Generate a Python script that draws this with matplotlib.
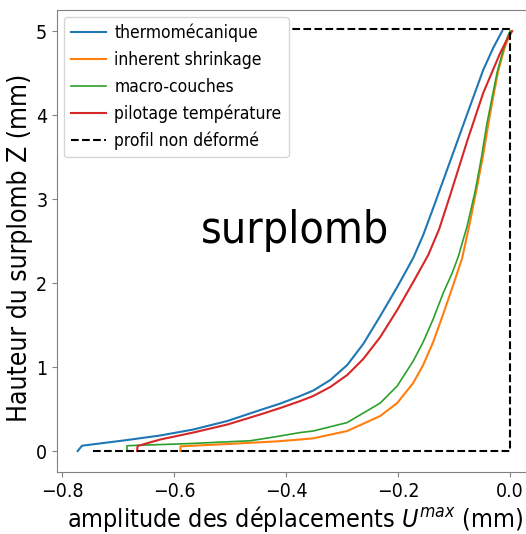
"""
Surplomb : profils de deplacement des differentes methodes
"""
import numpy as np
import matplotlib.pyplot as plt

plt.rcParams['font.family'] = ['DejaVu Sans']
plt.rcParams['font.stretch'] = 'condensed'

# profils deformes (deplacement en mm, hauteur en mm)
thermo_u = [-0.7727, -0.7648, -0.6839, -0.625, -0.566, -0.5054, -0.4464, -0.4107, -0.375,
            -0.3518, -0.3214, -0.2911, -0.2625, -0.2321, -0.2018, -0.1732, -0.1554, -0.1375,
            -0.1071, -0.0768, -0.0482, -0.0304, -0.0143]
thermo_z = [0.0, 0.063, 0.131, 0.185, 0.256, 0.357, 0.488, 0.565, 0.655,
            0.72, 0.845, 1.024, 1.274, 1.607, 1.952, 2.298, 2.571, 2.893,
            3.452, 4.012, 4.536, 4.798, 5.0]

shrink_u = [-0.5893, -0.5888, -0.5054, -0.4161, -0.375, -0.3518, -0.2911, -0.2321, -0.2018,
            -0.1732, -0.1554, -0.1375, -0.1196, -0.1036, -0.0857, -0.0714, -0.0589, -0.0482,
            -0.0393, -0.0304, -0.0214, -0.0107, 0.001]
shrink_z = [0.0, 0.056, 0.083, 0.115, 0.137, 0.151, 0.238, 0.417, 0.571,
            0.81, 1.024, 1.298, 1.631, 1.94, 2.298, 2.738, 3.155, 3.524,
            3.881, 4.214, 4.524, 4.786, 5.0]

macro_u = [-0.6845, -0.6845, -0.5714, -0.4643, -0.4161, -0.375, -0.3518, -0.2911, -0.2321,
           -0.2018, -0.1732, -0.1554, -0.1375, -0.1196, -0.1036, -0.0929, -0.0768, -0.0625,
           -0.0518, -0.042, -0.0321, -0.0232, -0.0125, -0.0036, 0.0]
macro_z = [0.0, 0.063, 0.089, 0.122, 0.173, 0.22, 0.238, 0.339, 0.571,
           0.774, 1.071, 1.298, 1.571, 1.881, 2.119, 2.31, 2.679, 3.095,
           3.476, 3.881, 4.214, 4.512, 4.774, 4.952, 5.0]

pilot_u = [-0.6666, -0.6655, -0.625, -0.566, -0.5054, -0.4464, -0.4107, -0.375, -0.3518,
           -0.3214, -0.2911, -0.2625, -0.2321, -0.2018, -0.1732, -0.1464, -0.1268, -0.1071,
           -0.0768, -0.0482, -0.0179, -0.0071, 0.0036]
pilot_z = [0.0, 0.06, 0.137, 0.22, 0.315, 0.435, 0.512, 0.595, 0.655,
           0.762, 0.905, 1.095, 1.357, 1.679, 2.012, 2.333, 2.643, 3.048,
           3.69, 4.262, 4.738, 4.881, 5.0]

# profil non deforme
ref_u = [-0.745, 0.0, 0.0, -0.39]
ref_z = [0.0, 0.0, 5.03, 5.03]

fig = plt.figure(figsize=(5.26, 5.34), dpi=100)
ax = fig.add_axes([0.1084, 0.1161, 0.903, 0.865])

ax.plot(thermo_u, thermo_z, color='tab:blue', label='thermomécanique')
ax.plot(shrink_u, shrink_z, color='tab:orange', label='inherent shrinkage')
ax.plot(macro_u, macro_z, color='tab:green', lw=1.2, label='macro-couches')
ax.plot(pilot_u, pilot_z, color='tab:red', label='pilotage température')
ax.plot(ref_u, ref_z, 'k--', label='profil non déformé')

ax.set_xlim(-0.8095, 0.039)
ax.set_ylim(-0.25, 5.25)
ax.set_xticks([-0.8, -0.6, -0.4, -0.2, 0.0])

ax.text(-0.553, 2.48, 'surplomb', fontsize=32)

ax.set_xlabel('amplitude des déplacements $U^{max}$ (mm)', fontsize=18, labelpad=2)
ax.set_ylabel('Hauteur du surplomb Z (mm)', fontsize=19)
ax.yaxis.set_label_coords(-0.05, 0.485)
ax.tick_params(labelsize=14, color='0.5')
for sp in ax.spines.values():
    sp.set_color('0.5')

ax.legend(loc='upper left', fontsize=12.5, handletextpad=0.5, borderaxespad=0.4)

fig.savefig('out.png', dpi=100)
